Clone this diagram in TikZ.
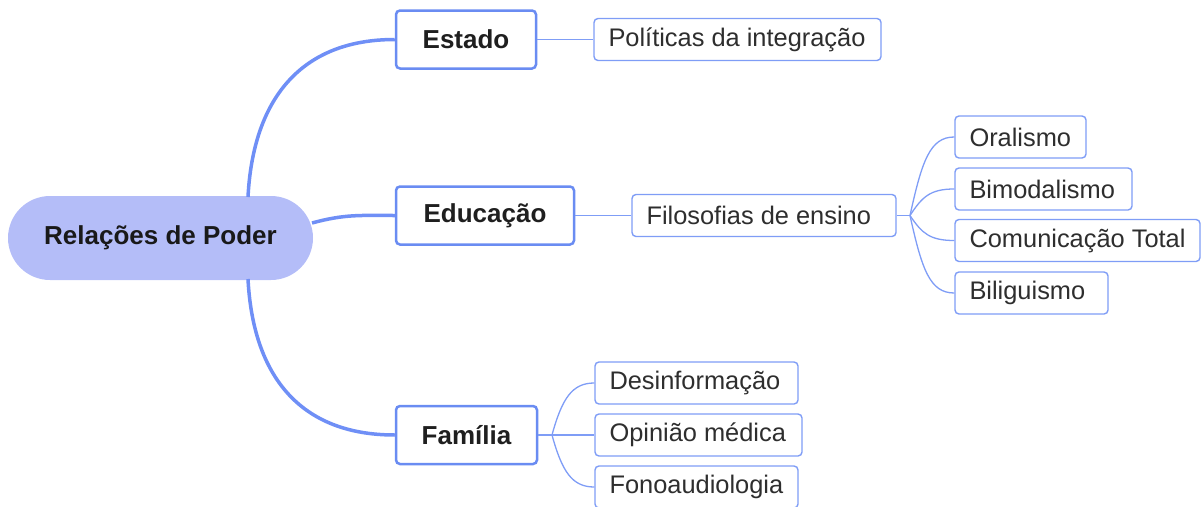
\documentclass[tikz,border=0pt]{standalone}
\usepackage{fontspec}
\setmainfont{Liberation Sans}
\definecolor{rootfill}{HTML}{B4BDF8}
\definecolor{thick}{HTML}{6F8FF6}
\definecolor{mainborder}{HTML}{6A8CF2}
\definecolor{leafborder}{HTML}{7F9DF6}
\definecolor{thin}{HTML}{7F9DF6}
\definecolor{txt}{HTML}{2E2E2E}
\newcommand{\lbx}[2]{\makebox[#1pt][l]{#2}}
\begin{document}
\begin{tikzpicture}[x=1pt,y=-1pt,
  rootbox/.style={rectangle, rounded corners=42pt, fill=rootfill, draw=none, inner sep=0pt,
    font=\fontsize{26}{30}\selectfont\bfseries, text=black!90},
  mainbox/.style={rectangle, rounded corners=4pt, draw=mainborder, line width=2.5pt, fill=white,
    inner sep=0pt, minimum height=58pt, font=\fontsize{26}{30}\selectfont\bfseries, text=black!88},
  leafbox/.style={rectangle, rounded corners=4pt, draw=leafborder, line width=1.4pt, fill=white,
    inner xsep=14.5pt, inner ysep=0pt, minimum height=42pt,
    font=\fontsize{25.4}{29}\selectfont, text=txt},
  thickline/.style={draw=thick, line width=3.5pt},
  thinline/.style={draw=thin, line width=1.3pt}]
\useasboundingbox (0,0) rectangle (1202,506);

\coordinate (rEst) at (248,197);
\coordinate (rEdu) at (312,223);
\coordinate (rFam) at (248,279);
\coordinate (fanF) at (910,215.5);
\coordinate (fanM) at (552,435);

% nodes
\node[rootbox, minimum width=305pt, minimum height=84pt] (root) at (160.5,238) {Relações de Poder};
\node[mainbox, minimum width=140pt] (est) at (466,39.5) {Estado};
\node[mainbox, minimum width=178pt] (edu) at (485,215.5) {Educação};
\node[mainbox, minimum width=141pt] (fam) at (466.5,435) {Família};

\node[leafbox] (pol) at (737.5,39.5) {\lbx{258}{Políticas da integração}};
\node[leafbox] (fil) at (764,215.5) {\lbx{235}{Filosofias de ensino}};
\node[leafbox] (ora) at (1020.5,137) {\lbx{102}{Oralismo}};
\node[leafbox] (bim) at (1043.5,189) {\lbx{148}{Bimodalismo}};
\node[leafbox] (com) at (1077.5,240.5) {\lbx{216}{Comunicação Total}};
\node[leafbox] (bil) at (1031.5,293) {\lbx{124}{Biliguismo}};
\node[leafbox] (des) at (696.5,383) {\lbx{174}{Desinformação}};
\node[leafbox] (opi) at (698.5,435) {\lbx{178}{Opinião médica}};
\node[leafbox] (fon) at (696.5,487) {\lbx{174}{Fonoaudiologia}};

% thick connectors
\draw[thickline] (rEst) .. controls (253,100) and (300,39.5) .. (est.west);
\draw[thickline] (rEdu) .. controls (345,214) and (360,215.5) .. (edu.west);
\draw[thickline] (rFam) .. controls (253,376) and (300,435) .. (fam.west);

% thin connectors
\draw[thinline] (est.east) -- (pol.west);
\draw[thinline] (edu.east) -- (fil.west);
\draw[thinline] (fil.east) -- (fanF);
\draw[thinline] (fanF) .. controls (922,160.7) and (930,137) .. (ora.west);
\draw[thinline] (fanF) .. controls (922,197) and (930,189) .. (bim.west);
\draw[thinline] (fanF) .. controls (922,233.5) and (930,240.5) .. (com.west);
\draw[thinline] (fanF) .. controls (922,270) and (930,293) .. (bil.west);
\draw[thinline] (fam.east) -- (fanM);
\draw[thinline] (fanM) .. controls (562,398.6) and (572,383) .. (des.west);
\draw[thinline] (fanM) -- (opi.west);
\draw[thinline] (fanM) .. controls (562,471.4) and (572,487) .. (fon.west);
\end{tikzpicture}
\end{document}
